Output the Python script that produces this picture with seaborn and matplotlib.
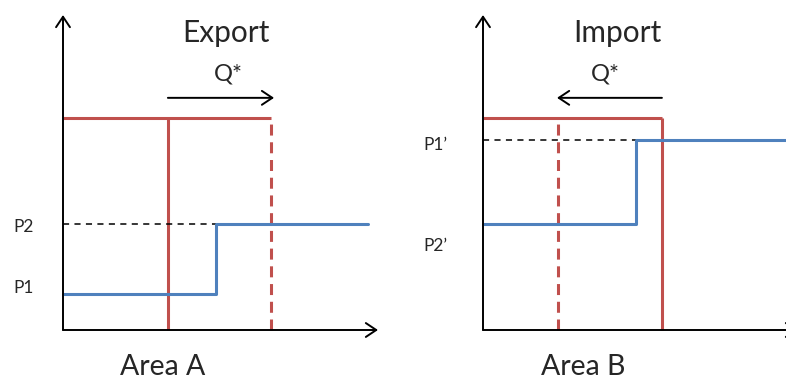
import matplotlib
matplotlib.use("Agg")
import matplotlib.pyplot as plt
import seaborn as sns
import pandas as pd

# ---- data (diagram units: each axis runs 0..10) ----
panel_titles = ["Export", "Import"]
area_labels = ["Area A", "Area B"]

# blue supply step lines: quantity breakpoints and price levels
blue_x_A = [0.0, 4.86, 9.68]
blue_y_A = [1.14, 3.37, 3.37]
blue_x_B = [0.0, 4.86, 9.62]
blue_y_B = [3.37, 6.03, 6.03]

# red demand/capacity level and verticals
red_level = [6.73, 6.73]
red_solid_x = [3.33, 5.68]
red_dashed_x = [6.60, 2.38]

# black dashed price reference
ref_price = [3.37, 6.03]
ref_end = [4.86, 4.86]

# Q* shift arrows (start, end)
q_start = [3.33, 5.68]
q_end = [6.70, 2.35]
q_level = 7.37

price_labels_A = ["P1", "P2"]
price_labels_B = ["P1\u2019", "P2\u2019"]

sns.set_theme(style="white")
plt.rcParams['font.family'] = ['Lato', 'DejaVu Sans']

RED = "#C0504D"
BLUE = "#4F81BD"

W, H = 786, 379
fig = plt.figure(figsize=(W / 100, H / 100), dpi=100)
fig.patch.set_facecolor("white")

origins = [63, 483]
axes = []
for ox in origins:
    ax = fig.add_axes([ox / W, (H - 330) / H, 315 / W, 315 / H])
    ax.set_xlim(0, 10)
    ax.set_ylim(0, 10)
    ax.axis("off")
    axes.append(ax)

arrow_kw = dict(arrowstyle="->,head_length=0.75,head_width=0.5", lw=1.4,
                color="black", shrinkA=0, shrinkB=0, mutation_scale=10)

blues = [(blue_x_A, blue_y_A), (blue_x_B, blue_y_B)]
labels_pos = [
    [(-1.24, 1.33), (-1.24, 3.27)],
    [(-1.52, 5.87), (-1.52, 2.67)],
]
price_labels = [price_labels_A, price_labels_B]
title_x = [5.17, 4.25]
q_text_x = [5.24, 3.87]
area_x = [3.17, 3.17]

for i, ax in enumerate(axes):
    # axes arrows
    ax.annotate("", xy=(0, 10), xytext=(0, 0), arrowprops=arrow_kw,
                annotation_clip=False)
    ax.annotate("", xy=(10, 0), xytext=(0, 0), arrowprops=arrow_kw,
                annotation_clip=False)

    # red lines
    rx_max = max(red_solid_x[i], red_dashed_x[i])
    ax.plot([0, rx_max], red_level, color=RED, lw=2.2, clip_on=False,
            solid_capstyle="butt")
    ax.plot([red_solid_x[i], red_solid_x[i]], [0, red_level[0]], color=RED,
            lw=2.2, clip_on=False, solid_capstyle="butt")
    ax.plot([red_dashed_x[i], red_dashed_x[i]], [0, red_level[0]], color=RED,
            lw=2.2, clip_on=False, dashes=(3.6, 2.2))

    # black dashed reference
    ax.plot([0, ref_end[i]], [ref_price[i], ref_price[i]], color="black",
            lw=1.1, dashes=(4, 3.5), clip_on=False)

    # blue step line
    bx, by = blues[i]
    df = pd.DataFrame({"q": bx, "p": by})
    sns.lineplot(data=df, x="q", y="p", ax=ax, color=BLUE, lw=2.2,
                 drawstyle="steps-post", sort=False, estimator=None,
                 clip_on=False)
    ax.set_xlim(0, 10)
    ax.set_ylim(0, 10)
    ax.axis("off")

    # Q* arrow
    ax.annotate("", xy=(q_end[i], q_level), xytext=(q_start[i], q_level),
                arrowprops=arrow_kw, annotation_clip=False)
    ax.text(q_text_x[i], 8.13, "Q*", fontsize=17, ha="center", va="center")

    # titles and area labels
    ax.text(title_x[i], 9.42, panel_titles[i], fontsize=21.5, ha="center",
            va="center")
    ax.text(area_x[i], -1.17, area_labels[i], fontsize=20.5, ha="center",
            va="center")

    # price labels
    for lab, (lx, ly) in zip(price_labels[i], labels_pos[i]):
        ax.text(lx, ly, lab, fontsize=12.5, ha="center", va="center")

fig.savefig("out.png", dpi=100, facecolor="white")
